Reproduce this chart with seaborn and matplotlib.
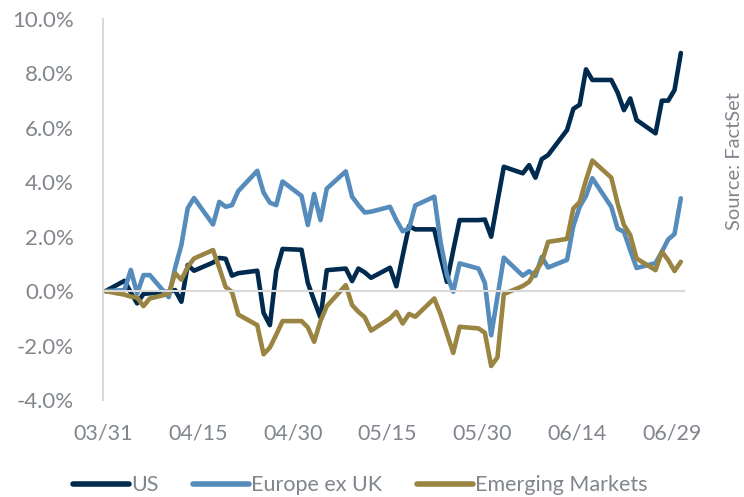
import pandas as pd
import numpy as np
import matplotlib
matplotlib.use('Agg')
import matplotlib.pyplot as plt
import matplotlib.dates as mdates
from matplotlib.ticker import FuncFormatter
import seaborn as sns

# Cumulative return (%) on each weekday of the quarter
dates = pd.bdate_range('2023-03-31', '2023-06-30')

us = [0.0,
      0.38, -0.05, -0.45, -0.1, -0.08,
      -0.02, 0.04, -0.39, 0.96, 0.75,
      1.05, 1.22, 1.19, 0.57, 0.66,
      0.75, -0.8, -1.25, 0.74, 1.55,
      1.52, 0.3, -0.35, -0.97, 0.77,
      0.83, 0.37, 0.83, 0.69, 0.49,
      0.86, 0.18, 1.3, 2.39, 2.27,
      2.27, 1.26, 0.34, 1.5, 2.61,
      2.61, 2.63, 2.0, 3.3, 4.57,
      4.33, 4.63, 4.17, 4.85, 5.0,
      5.92, 6.7, 6.85, 8.15, 7.76,
      7.76, 7.3, 6.65, 7.08, 6.29,
      5.8, 7.0, 7.0, 7.39, 8.75]

europe = [0.0,
          0.04, 0.78, -0.09, 0.59, 0.59,
          -0.22, 0.85, 1.7, 3.05, 3.42,
          2.45, 3.28, 3.1, 3.16, 3.68,
          4.42, 3.62, 3.25, 3.16, 4.03,
          3.5, 2.43, 3.57, 2.61, 3.77,
          4.4, 3.47, 3.16, 2.89, 2.92,
          3.1, 2.61, 2.2, 2.3, 3.15,
          3.47, 1.8, 0.6, -0.02, 1.02,
          0.83, 0.3, -1.62, -0.2, 1.23,
          0.57, 0.73, 0.56, 1.26, 0.87,
          1.15, 2.4, 3.1, 3.5, 4.15,
          3.1, 2.3, 2.18, 1.5, 0.85,
          1.03, 1.45, 1.9, 2.1, 3.41]

em = [0.0,
      -0.13, -0.2, -0.24, -0.55, -0.27,
      -0.1, 0.66, 0.42, 0.89, 1.2,
      1.51, 0.85, 0.15, -0.03, -0.86,
      -1.25, -2.32, -2.07, -1.6, -1.1,
      -1.1, -1.33, -1.86, -1.1, -0.55,
      0.22, -0.51, -0.76, -0.96, -1.45,
      -1.0, -0.76, -1.19, -0.84, -0.94,
      -0.27, -0.85, -1.56, -2.27, -1.31,
      -1.37, -1.53, -2.75, -2.43, -0.11,
      0.19, 0.34, 0.72, 1.06, 1.81,
      1.92, 3.04, 3.27, 4.08, 4.8,
      4.17, 3.22, 2.43, 2.06, 1.2,
      0.77, 1.45, 1.14, 0.74, 1.08]

series_names = ['US', 'Europe ex UK', 'Emerging Markets']
colors = ['#002a4e', '#558cbc', '#9a8442']
tick_dates = pd.date_range('2023-03-31', periods=7, freq='15D')
tick_labels = [d.strftime('%m/%d') for d in tick_dates]
y_ticks = [-4, -2, 0, 2, 4, 6, 8, 10]

df = pd.DataFrame({
    'date': list(dates) * 3,
    'value': us + europe + em,
    'series': np.repeat(series_names, len(dates)),
})

sns.set_style('white')
plt.rcParams['font.family'] = ['Lato', 'DejaVu Sans']
gray = '#80868c'
axis_gray = '#d9d9d9'

fig = plt.figure(figsize=(7.44, 4.97), dpi=100)
ax = fig.add_axes([103 / 744, 1 - 400 / 497, 581 / 744, 381 / 497])

sns.lineplot(data=df, x='date', y='value', hue='series', hue_order=series_names,
             palette=dict(zip(series_names, colors)), linewidth=3.3, ax=ax)
for line in ax.get_lines():
    line.set_solid_joinstyle('round')

start = mdates.date2num(dates[0])
ax.set_xlim(start - 0.4, start + 91.5)
ax.set_ylim(-4, 10)

ax.set_xticks(mdates.date2num(tick_dates) - 0.4)
ax.set_xticklabels(tick_labels)
ax.set_yticks(y_ticks)
ax.yaxis.set_major_formatter(FuncFormatter(lambda v, p: f'{v:.1f}%'))
ax.set_xlabel('')
ax.set_ylabel('')

for side in ['top', 'right']:
    ax.spines[side].set_visible(False)
ax.spines['bottom'].set_position(('data', 0))
for side in ['bottom', 'left']:
    ax.spines[side].set_color(axis_gray)
    ax.spines[side].set_linewidth(1.5)

ax.tick_params(axis='x', direction='out', length=5, width=1.5, color=axis_gray,
               pad=90, labelsize=15.5, labelcolor=gray)
ax.tick_params(axis='y', direction='out', length=6, width=1.5, color=axis_gray,
               pad=15, labelsize=16, labelcolor=gray)

handles, labels = ax.get_legend_handles_labels()
leg = ax.legend(handles, labels, loc='center', bbox_to_anchor=(0.484, 0.024),
                bbox_transform=fig.transFigure, ncol=3, frameon=False,
                handlelength=2.6, handletextpad=0.1, columnspacing=1.6,
                fontsize=15.5, labelcolor=gray)
for h in leg.get_lines():
    h.set_linewidth(4)
    h.set_solid_capstyle('round')

fig.text(735 / 744, 1 - 161 / 497, 'Source: FactSet', rotation=90,
         ha='center', va='center', fontsize=14.5, color=gray)

fig.savefig('out.png', dpi=100)
